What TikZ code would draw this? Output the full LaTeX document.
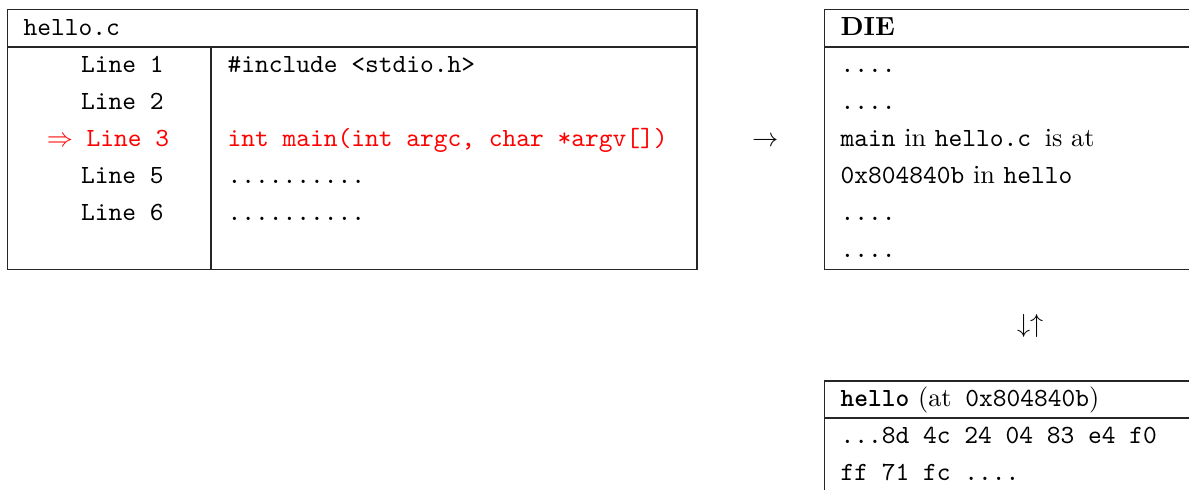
\documentclass[tikz,border=0pt]{standalone}
\begin{document}
\begin{tikzpicture}[x=0.3818pt,y=-0.3818pt,
  rule/.style={line width=0.5pt,draw=black!85},
  tt/.style={anchor=base west,inner sep=0pt,outer sep=0pt,font=\ttfamily},
  rm/.style={anchor=base west,inner sep=0pt,outer sep=0pt,font=\rmfamily},
  hot/.style={text=red}]
\useasboundingbox (0,0) rectangle (1189,489);
\clip (0,0) rectangle (1189,489);
% left table: hello.c
\draw[rule] (7.5,9.5) rectangle (697,269.5);
\draw[rule] (7.5,47) -- (697,47);
\draw[rule] (211,47) -- (211,269.5);
\node[tt] (src) at (23.6,35) {hello.c};
\node[tt] (l1) at (81.2,72.5) {Line 1};
\node[tt] (l2) at (81.2,109.5) {Line 2};
\node[tt,hot] (l3) at (46.8,146.5) {$\Rightarrow$ Line 3};
\node[tt] (l5) at (81.2,183.5) {Line 5};
\node[tt] (l6) at (81.2,220.5) {Line 6};
\node[tt] (c1) at (227.5,72.5) {\#include <stdio.h>};
\node[tt,hot] (c3) at (227.5,146.5) {int main(int argc, char *argv[])};
\node[tt] (c5) at (227.5,183.5) {..........};
\node[tt] (c6) at (227.5,220.5) {..........};
% arrow between
\node[rm] (arr) at (752,146.5) {$\rightarrow$};
% DIE table
\draw[rule] (1250,9.5) -- (824.5,9.5) -- (824.5,269.5) -- (1250,269.5);
\draw[rule] (824.5,47) -- (1250,47);
\node[rm] (die) at (840.6,35) {\textbf{DIE}};
\node[tt] (d1) at (840.6,72.5) {....};
\node[tt] (d2) at (840.6,109.5) {....};
\node[rm] (d3) at (840.6,146.5) {\texttt{main} in \texttt{hello.c\ }is at};
\node[rm] (d4) at (840.6,183.5) {\texttt{0x804840b} in \texttt{hello}};
\node[tt] (d5) at (840.6,220.5) {....};
\node[tt] (d6) at (840.6,257.5) {....};
% up/down arrows
\node[rm] (ud) at (1017,332.5) {$\downarrow\uparrow$};
% hello binary table
\draw[rule] (1250,381) -- (824.5,381) -- (824.5,520);
\draw[rule] (824.5,418) -- (1250,418);
\node[rm] (bin) at (840.6,406.5) {\textbf{\texttt{hello}} (at{\ttfamily\ 0x804840b})};
\node[tt] (b1) at (840.6,443.5) {...8d 4c 24 04 83 e4 f0};
\node[tt] (b2) at (840.6,480.5) {ff 71 fc ....};
\end{tikzpicture}
\end{document}
